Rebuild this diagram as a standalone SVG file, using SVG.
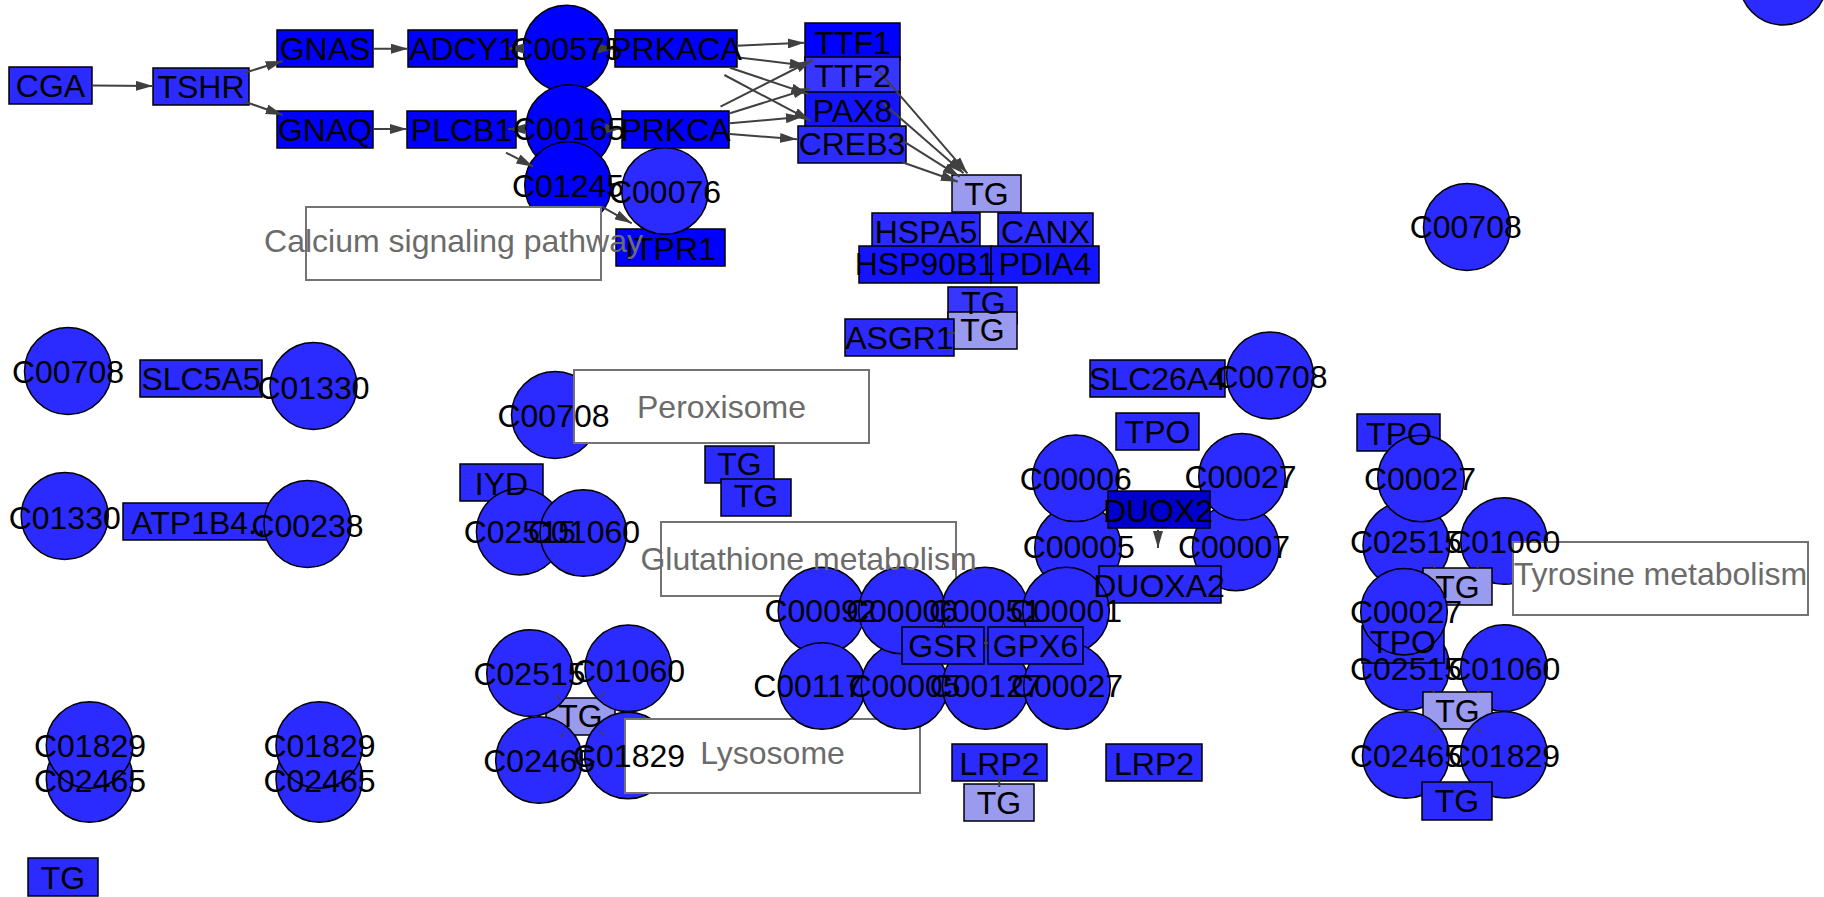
<svg xmlns="http://www.w3.org/2000/svg" width="1824" height="897" viewBox="0 0 1824 897">
<style>
text{font-family:"Liberation Sans",Arial,Helvetica,sans-serif;font-size:32px;text-anchor:middle;fill:#000}
.nd rect,.nd circle{stroke:#000;stroke-width:1.5}
.b0{fill:#0000ff}.b1{fill:#2b2bff}.b2{fill:#1414ff}.b3{fill:#3636ff}.bd{fill:#0000cc}.lt{fill:#9a9aee}
.pw rect{fill:#fff;stroke:#737373;stroke-width:2}
text.pl{fill:#6b6b6b}
.e{stroke:#404040;stroke-width:2;fill:none}
.s{stroke:#404040;stroke-width:1.5;fill:none}
</style>
<defs>
<marker id="ah" viewBox="0 0 17 10" refX="17" refY="5" markerWidth="17" markerHeight="10" markerUnits="userSpaceOnUse" orient="auto"><path d="M0,0L17,5L0,10z" fill="#404040"/></marker>
</defs>
<rect width="1824" height="897" fill="#fff"/>
<g id="nodes">
<g id="n-CGA" class="nd"><rect class="b1" x="9" y="67" width="83" height="37"/></g>
<g id="n-TSHR" class="nd"><rect class="b1" x="153" y="68" width="96" height="37"/></g>
<g id="n-GNAS" class="nd"><rect class="b0" x="277" y="30" width="96" height="37"/></g>
<g id="n-GNAQ" class="nd"><rect class="b0" x="277" y="111" width="96" height="37"/></g>
<g id="n-ADCY1" class="nd"><rect class="b0" x="408" y="30" width="109" height="37"/></g>
<g id="n-PLCB1" class="nd"><rect class="b0" x="407" y="111" width="109" height="37"/></g>
<g id="n-C00575" class="nd"><circle class="b0" cx="566.5" cy="48.5" r="43.3"/></g>
<g id="n-C00165" class="nd"><circle class="b0" cx="569" cy="128" r="43.3"/></g>
<g id="n-C01245" class="nd"><circle class="b0" cx="568" cy="185" r="43.3"/></g>
<g id="n-PRKACA" class="nd"><rect class="b0" x="615" y="30" width="122" height="37"/></g>
<g id="n-PRKCA" class="nd"><rect class="b0" x="622" y="111" width="107" height="37"/></g>
<g id="n-ITPR1" class="nd"><rect class="b0" x="616" y="229" width="109" height="37"/></g>
<g id="n-C00076" class="nd"><circle class="b1" cx="665" cy="191" r="43.3"/></g>
<g id="p-calcium" class="pw"><rect x="306" y="207" width="295" height="73"/></g>

<g id="n-TTF1" class="nd"><rect class="b0" x="805" y="23" width="95" height="37"/></g>
<g id="n-TTF2" class="nd"><rect class="b3" x="805" y="57" width="95" height="37"/></g>
<g id="n-PAX8" class="nd"><rect class="b2" x="805" y="92" width="95" height="37"/></g>
<g id="n-CREB3" class="nd"><rect class="b1" x="798" y="126" width="108" height="37"/></g>
<g id="n-TG-1" class="nd"><rect class="lt" x="952" y="175" width="69" height="37"/></g>
<g id="n-HSPA5" class="nd"><rect class="b1" x="872" y="213" width="108" height="37"/></g>
<g id="n-CANX" class="nd"><rect class="b1" x="998" y="213" width="95" height="37"/></g>
<g id="n-HSP90B1" class="nd"><rect class="b2" x="859" y="246" width="132" height="37"/></g>
<g id="n-PDIA4" class="nd"><rect class="b2" x="991" y="246" width="108" height="37"/></g>
<g id="n-TG-2" class="nd"><rect class="b3" x="948" y="287" width="69" height="37"/></g>
<g id="n-TG-3" class="nd"><rect class="lt" x="948" y="312" width="69" height="37"/></g>
<g id="n-ASGR1" class="nd"><rect class="b1" x="845" y="319" width="109" height="37"/></g>

<g id="n-C00708-1" class="nd"><circle class="b1" cx="68" cy="371" r="43.5"/></g>
<g id="n-SLC5A5" class="nd"><rect class="b1" x="140" y="360" width="122" height="37"/></g>
<g id="n-C01330-1" class="nd"><circle class="b1" cx="313.5" cy="386" r="43.5"/></g>
<g id="n-C01330-2" class="nd"><circle class="b1" cx="64.7" cy="516" r="43.5"/></g>
<g id="n-ATP1B4" class="nd"><rect class="b1" x="123" y="503" width="160" height="37"/></g>
<g id="n-C00238" class="nd"><circle class="b1" cx="307.5" cy="524" r="43.5"/></g>

<g id="n-C00708-2" class="nd"><circle class="b1" cx="555" cy="415" r="43.5"/></g>
<g id="p-peroxisome" class="pw"><rect x="574" y="370" width="295" height="73"/></g>
<g id="n-IYD" class="nd"><rect class="b1" x="460" y="464" width="83" height="37"/></g>
<g id="n-C02515-1" class="nd"><circle class="b1" cx="519.7" cy="531.7" r="43.3"/></g>
<g id="n-C01060-1" class="nd"><circle class="b1" cx="583.3" cy="533" r="43.3"/></g>
<g id="n-TG-4" class="nd"><rect class="b1" x="705" y="446" width="69" height="37"/></g>
<g id="n-TG-5" class="nd"><rect class="b1" x="721" y="479" width="70" height="37"/></g>

<g id="p-glutathione" class="pw"><rect x="661" y="522" width="295" height="74"/></g>

<g id="n-TG-6" class="nd"><rect class="lt" x="546" y="698" width="69" height="37"/></g>
<g id="n-C02515-2" class="nd"><circle class="b1" cx="530" cy="673" r="43.3"/></g>
<g id="n-C01060-2" class="nd"><circle class="b1" cx="628.3" cy="668.3" r="43.3"/></g>
<g id="n-C02465-2" class="nd"><circle class="b1" cx="539" cy="760" r="43.3"/></g>
<g id="n-C01829-2" class="nd"><circle class="b1" cx="628" cy="755.5" r="43.3"/></g>
<g id="p-lysosome" class="pw"><rect x="625" y="719" width="295" height="74"/></g>

<g id="n-C02465-a" class="nd"><circle class="b1" cx="89.6" cy="779" r="43.3"/></g>
<g id="n-C01829-a" class="nd"><circle class="b1" cx="89.6" cy="745" r="43.3"/></g>
<g id="n-C02465-b" class="nd"><circle class="b1" cx="319.3" cy="779" r="43.3"/></g>
<g id="n-C01829-b" class="nd"><circle class="b1" cx="319.3" cy="745" r="43.3"/></g>
<g id="n-TG-7" class="nd"><rect class="b1" x="28" y="858" width="70" height="38"/></g>

<g id="n-SLC26A4" class="nd"><rect class="b1" x="1090" y="360" width="135" height="37"/></g>
<g id="n-C00708-3" class="nd"><circle class="b1" cx="1270" cy="375.5" r="43.5"/></g>
<g id="n-TPO-1" class="nd"><rect class="b1" x="1116" y="413" width="83" height="37"/></g>
<g id="n-C00005-1" class="nd"><circle class="b1" cx="1078" cy="548" r="43.3"/></g>
<g id="n-C00006-1" class="nd"><circle class="b1" cx="1075.7" cy="478.3" r="43.3"/></g>
<g id="n-C00007" class="nd"><circle class="b1" cx="1235.8" cy="547.4" r="43.3"/></g>
<g id="n-C00027-1" class="nd"><circle class="b1" cx="1242" cy="476.7" r="43.3"/></g>
<g id="n-DUOX2" class="nd"><rect class="bd" x="1108" y="491" width="102" height="37"/></g>
<g id="n-DUOXA2" class="nd"><rect class="b1" x="1099" y="566" width="122" height="37"/></g>

<g id="n-C00092" class="nd"><circle class="b1" cx="821.5" cy="610.5" r="43.3"/></g>
<g id="n-C00117" class="nd"><circle class="b1" cx="822" cy="686" r="43.3"/></g>
<g id="n-C00005-2" class="nd"><circle class="b1" cx="904.5" cy="686" r="43.3"/></g>
<g id="n-C00006-2" class="nd"><circle class="b1" cx="902" cy="610.5" r="43.3"/></g>
<g id="n-C00051" class="nd"><circle class="b1" cx="985" cy="610.5" r="43.3"/></g>
<g id="n-C00127" class="nd"><circle class="b1" cx="985.7" cy="686" r="43.3"/></g>
<g id="n-C00001" class="nd"><circle class="b1" cx="1066" cy="610.5" r="43.3"/></g>
<g id="n-C00027-3" class="nd"><circle class="b1" cx="1067" cy="686" r="43.3"/></g>
<g id="n-GSR" class="nd"><rect class="b1" x="902" y="627" width="82" height="37"/></g>
<g id="n-GPX6" class="nd"><rect class="b1" x="988" y="627" width="95" height="37"/></g>

<g id="n-LRP2-1" class="nd"><rect class="b1" x="952" y="744" width="95" height="37"/></g>
<g id="n-TG-8" class="nd"><rect class="lt" x="964" y="784" width="70" height="37"/></g>
<g id="n-LRP2-2" class="nd"><rect class="b1" x="1106" y="744" width="96" height="37"/></g>

<g id="n-TPO-2" class="nd"><rect class="b1" x="1357" y="414" width="83" height="37"/></g>
<g id="n-C02515-3" class="nd"><circle class="b1" cx="1406.3" cy="545" r="43.3"/></g>
<g id="n-C00027-2" class="nd"><circle class="b1" cx="1421" cy="478.5" r="43.3"/></g>
<g id="n-C01060-3" class="nd"><circle class="b1" cx="1504" cy="541" r="43.3"/></g>
<g id="p-tyrosine" class="pw"><rect x="1513" y="542" width="295" height="73"/></g>
<g id="n-TG-9" class="nd"><rect class="lt" x="1423" y="568" width="69" height="37"/></g>
<g id="n-C02515-4" class="nd"><circle class="b1" cx="1406.3" cy="667" r="43.3"/></g>
<g id="n-TPO-3" class="nd"><rect class="b1" x="1362" y="626" width="82" height="37"/></g>
<g id="n-C00027-4" class="nd"><circle class="b1" cx="1404" cy="611.7" r="43.3"/></g>
<g id="n-C01060-4" class="nd"><circle class="b1" cx="1504" cy="668" r="43.3"/></g>
<g id="n-TG-10" class="nd"><rect class="lt" x="1423" y="692" width="69" height="37"/></g>
<g id="n-C02465-3" class="nd"><circle class="b1" cx="1405.8" cy="755" r="43.3"/></g>
<g id="n-C01829-3" class="nd"><circle class="b1" cx="1504" cy="754.7" r="43.3"/></g>
<g id="n-TG-11" class="nd"><rect class="b1" x="1422" y="782" width="70" height="38"/></g>

<g id="n-C00708-4" class="nd"><circle class="b1" cx="1467" cy="227" r="43.5"/></g>
<g id="n-corner" class="nd"><circle class="b1" cx="1783" cy="-18.5" r="43.5"/></g>
</g>

<g id="connectors">
<line class="e" x1="92" y1="85.5" x2="153" y2="86" marker-end="url(#ah)"/>
<line class="e" x1="245" y1="72.7" x2="282.7" y2="61" marker-end="url(#ah)"/>
<line class="e" x1="245" y1="101.7" x2="282.7" y2="115" marker-end="url(#ah)"/>
<line class="e" x1="373" y1="48.7" x2="408" y2="48.7" marker-end="url(#ah)"/>
<line class="e" x1="373" y1="129" x2="407" y2="129" marker-end="url(#ah)"/>
<line class="e" x1="524" y1="48.5" x2="507" y2="48.5" marker-end="url(#ah)"/>
<line class="e" x1="598" y1="48.5" x2="615" y2="48.5" marker-end="url(#ah)"/>
<line class="e" x1="525" y1="129" x2="508" y2="129" marker-end="url(#ah)"/>
<line class="e" x1="604" y1="128.5" x2="622" y2="128.5" marker-end="url(#ah)"/>
<line class="e" x1="506" y1="152.7" x2="533.3" y2="166.7" marker-end="url(#ah)"/>
<line class="e" x1="601.7" y1="206.7" x2="631.7" y2="223.3" marker-end="url(#ah)"/>
<line class="e" x1="736.6" y1="45.7" x2="804.7" y2="42.7" marker-end="url(#ah)"/>
<line class="e" x1="736.6" y1="57.3" x2="806.7" y2="65.7" marker-end="url(#ah)"/>
<line class="e" x1="730" y1="67.7" x2="808" y2="94" marker-end="url(#ah)"/>
<line class="e" x1="724.4" y1="75" x2="810.5" y2="120.7" marker-end="url(#ah)"/>
<line class="e" x1="720.5" y1="106.7" x2="812.4" y2="60" marker-end="url(#ah)"/>
<line class="e" x1="730" y1="113.3" x2="809.7" y2="88.3" marker-end="url(#ah)"/>
<line class="e" x1="730" y1="123.3" x2="802.8" y2="116.7" marker-end="url(#ah)"/>
<line class="e" x1="730" y1="134" x2="797" y2="139.3" marker-end="url(#ah)"/>
<line class="e" x1="879.4" y1="71.7" x2="967.4" y2="173.3" marker-end="url(#ah)"/>
<line class="e" x1="883.2" y1="103.3" x2="963.6" y2="173.3" marker-end="url(#ah)"/>
<line class="e" x1="890.9" y1="133.3" x2="959.7" y2="176.7" marker-end="url(#ah)"/>
<line class="e" x1="902.3" y1="162.3" x2="957.8" y2="181.7" marker-end="url(#ah)"/>
<line class="e" x1="946" y1="333" x2="955" y2="333"/>
<line class="e" x1="1158" y1="530" x2="1158" y2="548" marker-end="url(#ah)"/>
<line class="e" x1="984" y1="643" x2="988" y2="643"/>
<line class="s" x1="985.7" y1="637" x2="985.7" y2="650"/>
<line class="e" x1="999.3" y1="777" x2="999.3" y2="787"/>
<line class="s" x1="556" y1="695" x2="560" y2="699"/>
<line class="s" x1="604" y1="693" x2="600" y2="697"/>
<line class="s" x1="560" y1="737" x2="564" y2="733"/>
<line class="s" x1="604" y1="735" x2="600" y2="731"/>
<line class="s" x1="1431" y1="564" x2="1435" y2="568"/>
<line class="s" x1="1481" y1="564" x2="1477" y2="568"/>
<line class="s" x1="1431" y1="689" x2="1435" y2="693"/>
<line class="s" x1="1481" y1="689" x2="1477" y2="693"/>
<line class="s" x1="1433" y1="732" x2="1437" y2="728"/>
<line class="s" x1="1481" y1="732" x2="1477" y2="728"/>
</g>

<g id="labels">
<text x="50.5" y="96.5">CGA</text>
<text x="201" y="97.5">TSHR</text>
<text x="325" y="59.5">GNAS</text>
<text x="325" y="140.5">GNAQ</text>
<text x="462.5" y="59.5">ADCY1</text>
<text x="461.5" y="140.5">PLCB1</text>
<text x="566.5" y="59.5">C00575</text>
<text x="569" y="140">C00165</text>
<text x="568" y="197">C01245</text>
<text x="676" y="59.5">PRKACA</text>
<text x="675.5" y="140.5">PRKCA</text>
<text x="670.5" y="259.5">ITPR1</text>
<text x="665" y="203">C00076</text>
<text class="pl" x="453.5" y="252">Calcium signaling pathway</text>
<text x="852.5" y="53.5">TTF1</text>
<text x="852.5" y="86.5">TTF2</text>
<text x="852.5" y="121.5">PAX8</text>
<text x="852" y="155">CREB3</text>
<text x="986.5" y="204.5">TG</text>
<text x="926" y="243">HSPA5</text>
<text x="1045.5" y="243">CANX</text>
<text x="925" y="275">HSP90B1</text>
<text x="1045" y="275">PDIA4</text>
<text x="983.5" y="314">TG</text>
<text x="982.5" y="340.5">TG</text>
<text x="899.5" y="348.5">ASGR1</text>
<text x="68" y="383">C00708</text>
<text x="201" y="390">SLC5A5</text>
<text x="313.5" y="398.5">C01330</text>
<text x="64.7" y="528.5">C01330</text>
<text x="203" y="533.5">ATP1B4...</text>
<text x="307.5" y="536.5">C00238</text>
<text class="pl" x="721.5" y="418">Peroxisome</text>
<text x="553.5" y="427">C00708</text>
<text x="501.5" y="495">IYD</text>
<text x="519.7" y="543.3">C02515</text>
<text x="584" y="543.3">C01060</text>
<text x="739.5" y="474.5">TG</text>
<text x="756" y="507">TG</text>
<text class="pl" x="808.5" y="570">Glutathione metabolism</text>
<text x="580.5" y="727">TG</text>
<text x="529.5" y="685">C02515</text>
<text x="629" y="681.5">C01060</text>
<text x="539.3" y="771.5">C02465</text>
<text x="629" y="766.5">C01829</text>
<text class="pl" x="772.5" y="764">Lysosome</text>
<text x="90" y="756.7">C01829</text>
<text x="90" y="791.7">C02465</text>
<text x="319.5" y="756.7">C01829</text>
<text x="319.5" y="791.7">C02465</text>
<text x="63" y="888.5">TG</text>
<text x="1157.5" y="389.5">SLC26A4</text>
<text x="1271.5" y="388.3">C00708</text>
<text x="1157.5" y="443">TPO</text>
<text x="1078.7" y="558.3">C00005</text>
<text x="1075.7" y="490">C00006</text>
<text x="1234" y="558.3">C00007</text>
<text x="1240.5" y="488.3">C00027</text>
<text x="1158" y="521.7">DUOX2</text>
<text x="1159" y="596.7">DUOXA2</text>
<text x="820.5" y="622">C00092</text>
<text x="808" y="697">C00117</text>
<text x="904.5" y="697">C00005</text>
<text x="902" y="622">C00006</text>
<text x="985" y="622">C00051</text>
<text x="985.7" y="697">C00127</text>
<text x="1066" y="622">C00001</text>
<text x="1067" y="697">C00027</text>
<text x="943" y="656.5">GSR</text>
<text x="1035.5" y="656.5">GPX6</text>
<text x="999.5" y="775">LRP2</text>
<text x="999" y="813.5">TG</text>
<text x="1154" y="775">LRP2</text>
<text x="1399" y="445">TPO</text>
<text x="1406" y="553.3">C02515</text>
<text x="1420" y="490">C00027</text>
<text x="1504.3" y="553.3">C01060</text>
<text class="pl" x="1660.5" y="585">Tyrosine metabolism</text>
<text x="1457.5" y="598.3">TG</text>
<text x="1406" y="680">C02515</text>
<text x="1403" y="653.3">TPO</text>
<text x="1406" y="623.3">C00027</text>
<text x="1504.3" y="680">C01060</text>
<text x="1457.5" y="721.7">TG</text>
<text x="1406" y="766.7">C02465</text>
<text x="1504" y="766.7">C01829</text>
<text x="1457" y="811.7">TG</text>
<text x="1465.7" y="238.3">C00708</text>
</g>
</svg>
